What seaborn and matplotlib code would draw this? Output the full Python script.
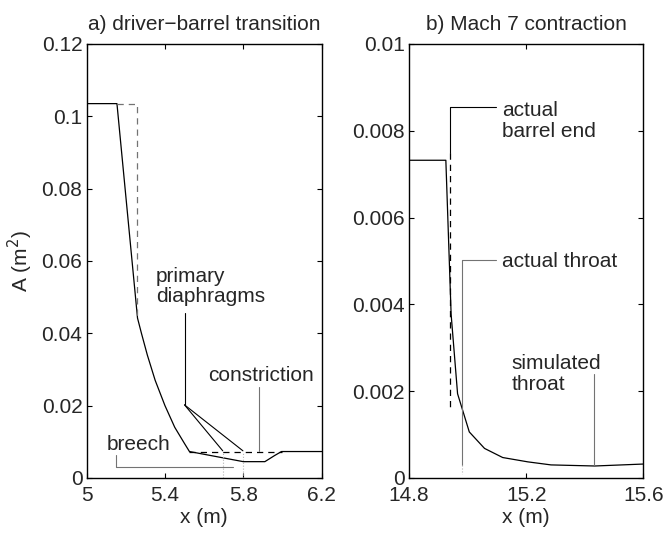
import numpy as np
import pandas as pd
import seaborn as sns
import matplotlib.pyplot as plt

# a) driver-barrel transition, simulated area profile
x_a = [5.0, 5.155, 5.26, 5.28, 5.31, 5.35, 5.40, 5.45, 5.50, 5.525, 5.80, 5.91, 5.96, 5.995, 6.2]
A_a = [0.1035, 0.1035, 0.0442, 0.040, 0.034, 0.027, 0.020, 0.014, 0.0095, 0.0073,
       0.0045, 0.0045, 0.0062, 0.0073, 0.0073]
# actual geometry (dashed)
x_a_act = [5.155, 5.258, 5.258]
A_a_act = [0.1035, 0.1035, 0.0442]
x_a_bar = [5.525, 6.0]
A_a_bar = [0.0073, 0.0073]

# b) Mach 7 contraction
x_b = [14.8, 14.926, 14.944, 14.966, 15.006, 15.058, 15.12, 15.206, 15.285, 15.434, 15.6]
A_b = [0.00732, 0.00732, 0.00377, 0.00194, 0.00106, 0.00068, 0.00047, 0.00037,
       0.00030, 0.000275, 0.00032]
x_b_act = [14.941, 14.941]
A_b_act = [0.00748, 0.00163]

xticks_a = [5, 5.4, 5.8, 6.2]
yticks_a = [0, 0.02, 0.04, 0.06, 0.08, 0.1, 0.12]
yticklabels_a = ['0', '0.02', '0.04', '0.06', '0.08', '0.1', '0.12']
xticks_b = [14.8, 15.2, 15.6]
yticks_b = [0, 0.002, 0.004, 0.006, 0.008, 0.01]
yticklabels_b = ['0', '0.002', '0.004', '0.006', '0.008', '0.01']

sns.set_style("ticks")
plt.rcParams['font.family'] = ['Liberation Sans', 'DejaVu Sans']
plt.rcParams['xtick.direction'] = 'in'
plt.rcParams['ytick.direction'] = 'in'
plt.rcParams['xtick.top'] = True
plt.rcParams['ytick.right'] = True
plt.rcParams['xtick.major.size'] = 3.5
plt.rcParams['ytick.major.size'] = 3.5
plt.rcParams['axes.linewidth'] = 1.0
plt.rcParams['axes.edgecolor'] = 'black'

fs = 15
fig = plt.figure(figsize=(6.66, 5.34), dpi=100)
ax1 = fig.add_axes([0.130, 0.105, 0.353, 0.8127])
ax2 = fig.add_axes([0.614, 0.105, 0.352, 0.8127])

lw = 0.9
grey = '0.45'

# ---- panel a
sns.lineplot(data=pd.DataFrame({'x': x_a, 'A': A_a}), x='x', y='A', sort=False,
             estimator=None, color='black', lw=lw, ax=ax1)
sns.lineplot(data=pd.DataFrame({'x': x_a_act, 'A': A_a_act}), x='x', y='A', sort=False,
             estimator=None, color=grey, lw=lw, ls=(0, (5, 4)), ax=ax1)
sns.lineplot(data=pd.DataFrame({'x': x_a_bar, 'A': A_a_bar}), x='x', y='A', sort=False,
             estimator=None, color='black', lw=lw, ls=(0, (5, 4)), ax=ax1)

# leaders
ax1.plot([5.50, 5.50], [0.0456, 0.0202], color='black', lw=0.8)
ax1.plot([5.50, 5.695], [0.0202, 0.0075], color='black', lw=0.8)
ax1.plot([5.50, 5.798], [0.0202, 0.0075], color='black', lw=0.8)
for xd in [5.695, 5.798]:
    ax1.plot([xd, xd], [0, 0.0073], color='0.7', lw=0.8, ls=':')
ax1.plot([5.88, 5.88], [0.0251, 0.0075], color=grey, lw=0.8)
ax1.plot([5.149, 5.149, 5.749], [0.0064, 0.0029, 0.0029], color=grey, lw=0.8)

ax1.text(5.354, 0.0486, 'primary\ndiaphragms', fontsize=fs, ha='left', va='baseline',
         linespacing=1.1)
ax1.text(5.89, 0.0268, 'constriction', fontsize=fs, ha='center', va='baseline')
ax1.text(5.103, 0.0077, 'breech', fontsize=fs, ha='left', va='baseline')

ax1.set_xlim(5, 6.2)
ax1.set_ylim(0, 0.12)
ax1.set_xticks(xticks_a)
ax1.set_xticklabels([f'{v:g}' for v in xticks_a], fontsize=fs)
ax1.set_yticks(yticks_a)
ax1.set_yticklabels(yticklabels_a, fontsize=fs)
ax1.set_xlabel('x (m)', fontsize=fs, labelpad=2)
ax1.set_ylabel('A (m$^2$)', fontsize=fs, labelpad=5)
ax1.set_title('a) driver\u2212barrel transition', fontsize=fs, pad=10)

# ---- panel b
sns.lineplot(data=pd.DataFrame({'x': x_b, 'A': A_b}), x='x', y='A', sort=False,
             estimator=None, color='black', lw=lw, ax=ax2)
sns.lineplot(data=pd.DataFrame({'x': x_b_act, 'A': A_b_act}), x='x', y='A', sort=False,
             estimator=None, color='black', lw=lw, ls=(0, (5, 4)), ax=ax2)

ax2.plot([14.941, 14.941, 15.097], [0.00748, 0.00855, 0.00855], color='black', lw=0.8)
ax2.plot([15.097, 14.981, 14.981], [0.00502, 0.00502, 0.0003], color=grey, lw=0.8)
ax2.plot([14.981, 14.981], [0.0003, 0.0001], color='0.7', lw=0.8, ls=':')
ax2.plot([15.43, 15.43], [0.0024, 0.0003], color=grey, lw=0.8)

ax2.text(15.118, 0.00786, 'actual\nbarrel end', fontsize=fs, ha='left', va='baseline',
         linespacing=1.1)
ax2.text(15.118, 0.00486, 'actual throat', fontsize=fs, ha='left', va='baseline')
ax2.text(15.15, 0.00203, 'simulated\nthroat', fontsize=fs, ha='left', va='baseline',
         linespacing=1.1)

ax2.set_xlim(14.8, 15.6)
ax2.set_ylim(0, 0.01)
ax2.set_xticks(xticks_b)
ax2.set_xticklabels([f'{v:g}' for v in xticks_b], fontsize=fs)
ax2.set_yticks(yticks_b)
ax2.set_yticklabels(yticklabels_b, fontsize=fs)
ax2.set_xlabel('x (m)', fontsize=fs, labelpad=2)
ax2.set_ylabel('')
ax2.set_title('b) Mach 7 contraction', fontsize=fs, pad=10)

for ax in (ax1, ax2):
    for s in ax.spines.values():
        s.set_visible(True)
        s.set_color('black')
    ax.tick_params(axis='y', pad=3, width=0.8, color='black')
    ax.tick_params(axis='x', pad=6, width=0.8, color='black')

fig.savefig('out.png', dpi=100)
